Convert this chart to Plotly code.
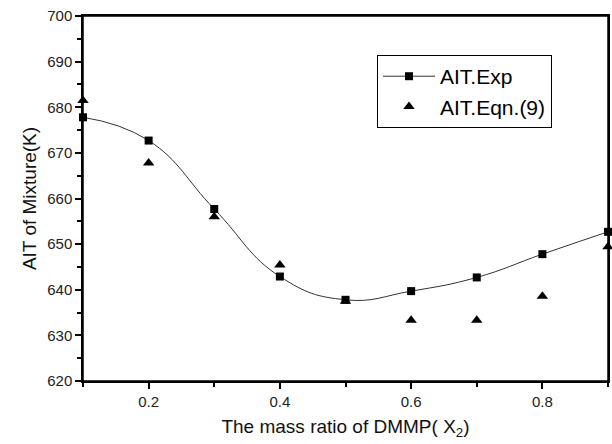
import plotly.graph_objects as go

x_ratio = [0.1, 0.2, 0.3, 0.4, 0.5, 0.6, 0.7, 0.8, 0.9]
ait_exp = [677.8, 672.7, 657.7, 642.9, 637.8, 639.7, 642.7, 647.8, 652.7]
ait_eqn = [681.5, 667.8, 656.0, 645.4, 637.5, 633.3, 633.3, 638.6, 649.4]

FONT = "Liberation Sans, Arial, sans-serif"

fig = go.Figure()
fig.add_trace(go.Scatter(
    x=x_ratio, y=ait_exp, mode="lines+markers", name="AIT.Exp",
    line=dict(color="#333333", width=1, shape="spline", smoothing=1.3),
    marker=dict(symbol="square", size=8, color="black"),
    cliponaxis=False,
))
fig.add_trace(go.Scatter(
    x=x_ratio, y=ait_eqn, mode="markers", name="AIT.Eqn.(9)",
    marker=dict(symbol="triangle-up", size=10, color="black"),
    cliponaxis=False,
))

axis_common = dict(
    showline=True, linecolor="black", linewidth=1.5, mirror=True,
    ticks="outside", ticklen=6, tickwidth=1.5, tickcolor="black",
    showgrid=False, zeroline=False,
    tickfont=dict(family=FONT, size=15, color="#222222"),
)

fig.update_xaxes(
    range=[0.1, 0.9], dtick=0.2, tick0=0,
    minor=dict(dtick=0.1, ticklen=4, tickwidth=1.5, tickcolor="black", ticks="outside"),
    title=dict(text="The mass ratio of DMMP( X<sub>2</sub>)", standoff=11,
               font=dict(family=FONT, size=19, color="#111111")),
    **axis_common,
)
fig.update_yaxes(
    range=[620, 700], dtick=10, tick0=620,
    minor=dict(dtick=5, ticklen=4, tickwidth=1.5, tickcolor="black", ticks="outside"),
    title=dict(text="AIT of Mixture(K)", standoff=6,
               font=dict(family=FONT, size=19, color="#111111")),
    **axis_common,
)

# frame around plot area
fig.add_shape(type="rect", xref="paper", yref="paper", x0=0, y0=0, x1=1, y1=1,
              line=dict(color="black", width=1.5), fillcolor="rgba(0,0,0,0)", layer="above")

fig.update_layout(
    width=612, height=444,
    margin=dict(l=83, r=4, t=16, b=63, autoexpand=False),
    paper_bgcolor="white", plot_bgcolor="white",
    showlegend=True,
    legend=dict(
        x=0.56, y=0.893, xanchor="left", yanchor="top",
        bordercolor="black", borderwidth=1, bgcolor="white",
        font=dict(family=FONT, size=21, color="black"),
        tracegroupgap=0, itemwidth=52,
    ),
)

fig.write_html(
    "out.html",
    config={"displayModeBar": False},
    post_script="document.body.style.margin='0';document.body.style.overflow='hidden';",
)
